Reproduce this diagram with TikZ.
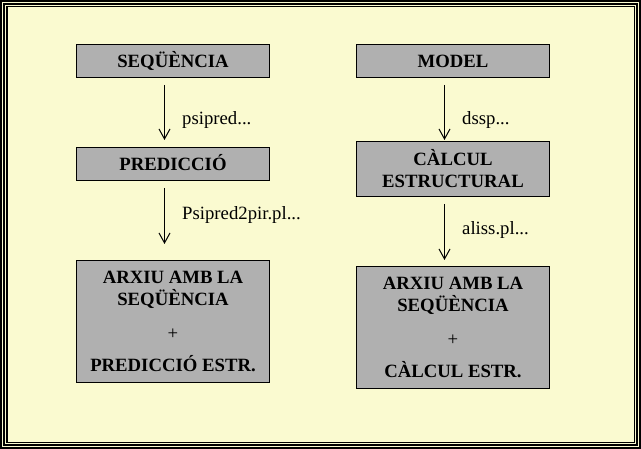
\documentclass[tikz,border=0pt]{standalone}
\usepackage{fontspec}
\setmainfont{Liberation Serif}
\usetikzlibrary{arrows.meta}
\definecolor{bgyellow}{RGB}{250,250,208}
\definecolor{boxgrey}{RGB}{176,176,176}
\begin{document}
\begin{tikzpicture}[x=1bp,y=-1bp,
  procbox/.style={draw=black,line width=1bp,fill=boxgrey,inner sep=0pt,
    minimum width=193bp,anchor=north west,align=center,
    font=\bfseries\fontsize{18.8}{22}\selectfont},
  onebox/.style={procbox,minimum height=33bp,text height=14bp,text depth=0bp},
  steplabel/.style={anchor=base west,inner sep=0pt,font=\fontsize{18.8}{22}\selectfont},
  flow/.style={line width=1bp,-{Straight Barb[length=10bp,width=11bp,line width=1bp]}}
]
\useasboundingbox (0,0) rectangle (641,449);
\fill[bgyellow] (0,0) rectangle (641,449);
\draw[line width=2bp] (1,1) rectangle (640,448);
\draw[line width=2bp] (4,4) rectangle (637,445);
\draw[line width=1.5bp] (6.75,6.75) rectangle (634.25,442.25);

% left column
\node[onebox] (seq) at (76,44) {SEQÜÈNCIA};
\node[onebox] (pred) at (76,147) {PREDICCIÓ};
\node[procbox,minimum height=122bp] (arx1) at (76,260)
  {ARXIU AMB LA\\SEQÜÈNCIA\\[12bp]{\mdseries +}\\[11bp]PREDICCIÓ ESTR.};

% right column
\node[onebox] (model) at (356,44) {MODEL};
\node[procbox,minimum height=55bp] (calc) at (356,141) {CÀLCUL\\ESTRUCTURAL};
\node[procbox,minimum height=122bp] (arx2) at (356,266)
  {ARXIU AMB LA\\SEQÜÈNCIA\\[12bp]{\mdseries +}\\[11bp]CÀLCUL ESTR.};

% connectors
\draw[flow,shorten <=7bp,shorten >=7bp] ([xshift=-8.5bp]seq.south) -- ([xshift=-8.5bp]pred.north);
\draw[flow,shorten <=7bp,shorten >=16bp] ([xshift=-8.5bp]pred.south) -- ([xshift=-8.5bp]arx1.north);
\draw[flow,shorten <=7bp,shorten >=1bp] ([xshift=-8.5bp]model.south) -- ([xshift=-8.5bp]calc.north);
\draw[flow,shorten <=7bp,shorten >=6bp] ([xshift=-8.5bp]calc.south) -- ([xshift=-8.5bp]arx2.north);

% labels
\node[steplabel] (l1) at (182,124.3) {psipred...};
\node[steplabel] (l2) at (182,220) {Psipred2pir.pl...};
\node[steplabel] (l3) at (462,125) {dssp...};
\node[steplabel] (l4) at (462,235) {aliss.pl...};
\end{tikzpicture}
\end{document}
